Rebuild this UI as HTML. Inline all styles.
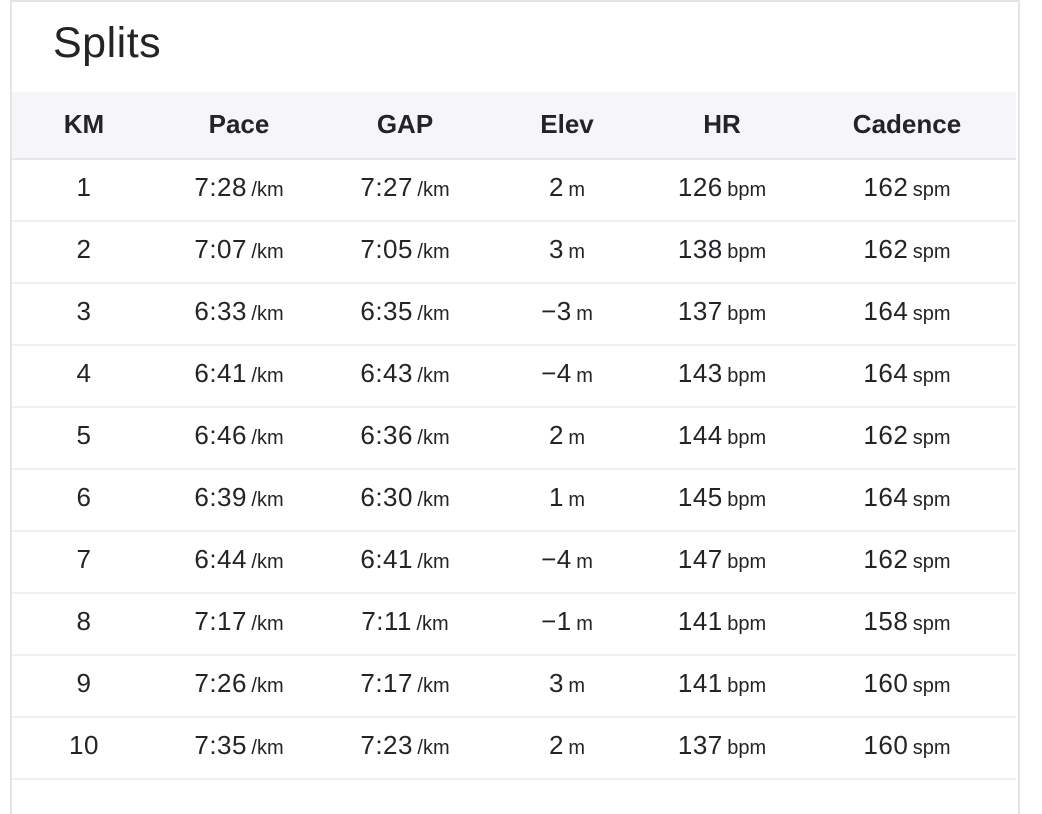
<!DOCTYPE html>
<html><head><meta charset="utf-8">
<style>
html,body{margin:0;padding:0;background:#fff;width:1042px;height:814px;overflow:hidden;}
#wrap{position:relative;width:1042px;height:814px;overflow:hidden;font-family:"Liberation Sans","DejaVu Sans",sans-serif;color:#242428;}
#card{position:absolute;left:10px;top:0;width:1006px;height:830px;border:2px solid #e4e3ea;background:#fff;}
#title{position:absolute;left:53px;top:20px;font-size:43px;line-height:46px;color:#242428;letter-spacing:0.5px;}
#hdr{position:absolute;left:12px;top:92px;width:1004px;height:66px;background:#f6f6f8;border-bottom:2px solid #e6e5ec;}
.c{position:absolute;transform:translateX(-50%);white-space:nowrap;}
.h{font-weight:bold;font-size:26px;top:109px;}
.row{position:absolute;left:12px;width:1004px;height:60px;border-bottom:2px solid #f0eff4;}
.v{font-size:26px;letter-spacing:0.5px;}
.u{font-size:20px;}
</style></head><body>
<div id="wrap">
<div id="card"></div>
<div id="title">Splits</div>
<div id="hdr"></div>
</div>
<script>
const cols=["KM","Pace","GAP","Elev","HR","Cadence"];
const colX=[84,239,405,567,722,907];
const km=["1","2","3","4","5","6","7","8","9","10"];
const pace=["7:28","7:07","6:33","6:41","6:46","6:39","6:44","7:17","7:26","7:35"];
const gap=["7:27","7:05","6:35","6:43","6:36","6:30","6:41","7:11","7:17","7:23"];
const elev=["2","3","-3","-4","2","1","-4","-1","3","2"];
const hr=["126","138","137","143","144","145","147","141","141","137"];
const cad=["162","162","164","164","162","164","162","158","160","160"];
const units=["","/km","/km","m","bpm","spm"];
const body=document.getElementById('wrap');
cols.forEach((c,i)=>{
  const d=document.createElement('div');
  d.className='c h';d.style.left=colX[i]+'px';d.textContent=c;
  
  
  body.appendChild(d);
});
const series=[km,pace,gap,elev,hr,cad];
km.forEach((k,r)=>{
  const top=160+r*62;
  const row=document.createElement('div');
  row.className='row';row.style.top=top+'px';
  
  
  body.appendChild(row);
  series.forEach((s,i)=>{
    const d=document.createElement('div');
    d.className='c';d.style.left=colX[i]+'px';d.style.top=(top+12)+'px';
    let val=s[r].replace('-','\u2212');
    d.innerHTML='<span class="v">'+val+'</span>'+(units[i]?' <span class="u">'+units[i]+'</span>':'');
    
    
    body.appendChild(d);
  });
});
</script>
</body></html>
